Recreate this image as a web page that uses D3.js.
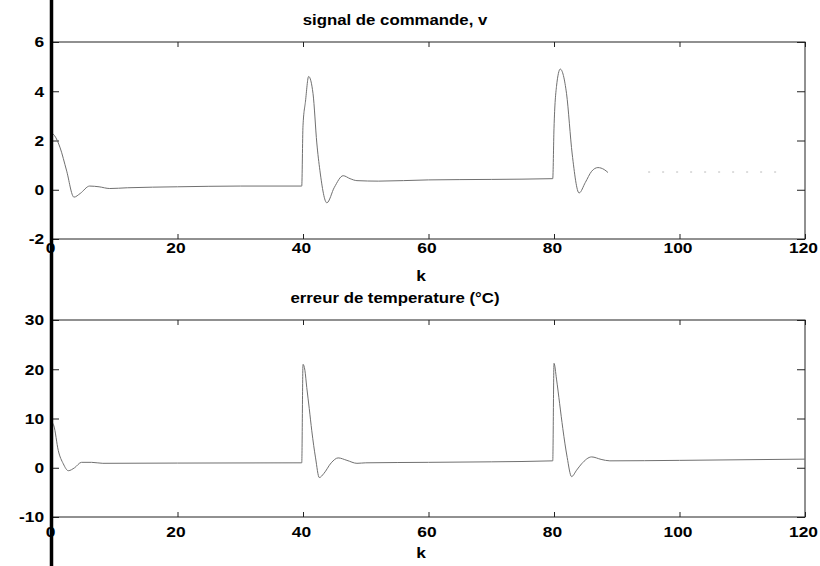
<!DOCTYPE html>
<html>
<head>
<meta charset="utf-8">
<script src="https://cdn.jsdelivr.net/npm/d3@7"></script>
<style>
  body { margin: 0; background: #fff; }
  svg { display: block; font-family: "Liberation Sans", Arial, sans-serif; }
</style>
</head>
<body>
<div id="chart"></div>
<script>
// command signal v(k)
const cmdK = [0, 0.4, 1.3, 2.3, 3.5, 4.5, 6, 7.5, 9.2, 12, 20, 30, 39.8,
  40, 40.4, 40.9, 41.6, 42.2, 42.7, 43.8, 45, 46.4, 47.5, 48.6, 52, 60, 70, 79.8,
  80, 80.4, 81, 82, 82.9, 84, 85, 86, 87, 88, 88.6];
const cmdV = [2.3, 2.2, 1.7, 0.8, -0.3, -0.15, 0.15, 0.12, 0.05, 0.08, 0.12, 0.15, 0.15,
  2.6, 3.6, 4.6, 3.9, 1.9, 0.77, -0.53, 0.1, 0.57, 0.45, 0.37, 0.35, 0.4, 0.42, 0.45,
  2.5, 4.2, 4.9, 3.9, 1.45, -0.13, 0.3, 0.75, 0.9, 0.82, 0.7];
// faint dotted remainder of the command signal
const tailK = [95, 116];
const tailV = [0.72, 0.72];

// temperature error (°C)
const errK = [0, 0.3, 1, 1.8, 2.6, 3.6, 4.7, 6.3, 8.1, 20, 39.8,
  40, 40.3, 40.6, 41, 41.4, 42, 42.6, 43.3, 44.5, 45.6, 47, 48.6, 50, 60, 70, 79.8,
  80, 80.4, 80.9, 81.4, 82.1, 82.8, 83.6, 84.4, 86, 87.5, 88.9, 100, 120];
const errV = [9.2, 8.5, 3.5, 0.8, -0.6, 0.0, 1.1, 1.1, 0.9, 0.95, 1.0,
  21, 19.8, 16.3, 12, 7.5, 2, -2, -1.2, 1.0, 2.0, 1.5, 0.9, 1.0, 1.1, 1.2, 1.4,
  21.2, 18, 13, 8, 2.1, -1.8, -0.5, 0.8, 2.2, 1.7, 1.4, 1.5, 1.75];

const xTicks = [0, 20, 40, 60, 80, 100, 120];
const cmdTicks = [-2, 0, 2, 4, 6];
const errTicks = [-10, 0, 10, 20, 30];

const W = 820, H = 566;
const SX = 1.12; // the scan is stretched sideways

const svg = d3.select("#chart").append("svg")
  .attr("width", W).attr("height", H);

function drawPanel(opt) {
  const x = d3.scaleLinear().domain([0, 120]).range([52, 805]);
  const y = d3.scaleLinear().domain(opt.yDomain).range([opt.bottom, opt.top]);
  const g = svg.append("g");
  const fmt = d => String(d); // plain hyphen minus, like the original

  // bottom axis with labels, ticks pointing in
  const ax = g.append("g")
    .attr("transform", `translate(0,${opt.bottom})`)
    .call(d3.axisBottom(x).tickValues(xTicks).tickSizeInner(-5).tickSizeOuter(0)
      .tickPadding(opt.xPad).tickFormat(fmt));
  // top ticks
  g.append("g")
    .attr("transform", `translate(0,${opt.top})`)
    .call(d3.axisTop(x).tickValues(xTicks).tickSizeInner(-5).tickSizeOuter(0).tickFormat(""));
  // left axis with labels
  const ay = g.append("g")
    .attr("transform", "translate(52,0)")
    .call(d3.axisLeft(y).tickValues(opt.yTicks).tickSizeInner(-7).tickSizeOuter(0)
      .tickPadding(7).tickFormat(fmt));
  // right ticks
  g.append("g")
    .attr("transform", "translate(805,0)")
    .call(d3.axisRight(y).tickValues(opt.yTicks).tickSizeInner(-8).tickSizeOuter(0).tickFormat(""));

  g.selectAll(".domain").remove();
  g.selectAll(".tick line").attr("stroke", "#222");
  g.selectAll(".tick text").attr("font-size", 15.5).attr("font-weight", "bold")
    .attr("fill", "#000").attr("font-family", "Liberation Sans, Arial, sans-serif");
  ax.selectAll("text").attr("x", -2 / SX).attr("transform", `scale(${SX},1)`);
  ay.selectAll("text").attr("transform", `scale(${SX},1)`);

  // box
  g.append("rect")
    .attr("x", 52).attr("y", opt.top)
    .attr("width", 805 - 52).attr("height", opt.bottom - opt.top)
    .attr("fill", "none").attr("stroke", "#222").attr("stroke-width", 1);

  const line = d3.line().x(d => x(d[0])).y(d => y(d[1])).curve(d3.curveMonotoneX);
  opt.series.forEach(s => {
    g.append("path")
      .datum(d3.zip(s.k, s.v))
      .attr("d", line)
      .attr("fill", "none")
      .attr("stroke", s.color)
      .attr("stroke-width", 1)
      .attr("stroke-dasharray", s.dash || null);
  });

  // title and x label
  g.append("g").attr("transform", `translate(395,${opt.titleY}) scale(${SX},1)`)
    .append("text").attr("text-anchor", "middle").attr("font-size", 15)
    .attr("font-weight", "bold").text(opt.title);
  g.append("g").attr("transform", `translate(421,${opt.kY}) scale(${SX},1)`)
    .append("text").attr("text-anchor", "middle").attr("font-size", 15.5)
    .attr("font-weight", "bold").text("k");
}

drawPanel({
  top: 42, bottom: 239, yDomain: [-2, 6], yTicks: cmdTicks, xPad: 3,
  title: "signal de commande, v", titleY: 24.5, kY: 280.5,
  series: [
    { k: cmdK, v: cmdV, color: "#707070" },
    { k: tailK, v: tailV, color: "#bbbbbb", dash: "2,12" }
  ]
});

drawPanel({
  top: 320, bottom: 517, yDomain: [-10, 30], yTicks: errTicks, xPad: 9,
  title: "erreur de temperature (°C)", titleY: 302.5, kY: 558,
  series: [
    { k: errK, v: errV, color: "#707070" }
  ]
});

// heavy vertical stroke down the left edge of the scan
svg.append("line")
  .attr("x1", 51.5).attr("x2", 51.5).attr("y1", 0).attr("y2", H)
  .attr("stroke", "#000").attr("stroke-width", 3.5);
</script>
</body>
</html>
